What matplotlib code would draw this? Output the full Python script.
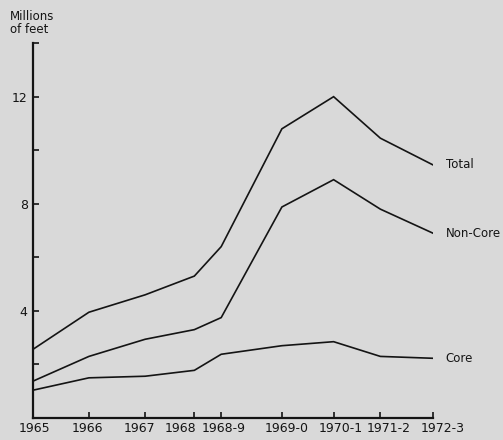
import numpy as np
import matplotlib
matplotlib.use("Agg")
from matplotlib import pyplot as plt
from matplotlib import transforms

# Data (millions of feet)
periods = ['1965', '1966', '1967', '1968', '1968-9', '1969-0', '1970-1', '1971-2', '1972-3']
# horizontal spacing of the periods is uneven on the original
positions = [0, 1.12, 2.25, 3.24, 3.78, 5.0, 6.04, 6.98, 8.04]
# the printed labels sit a little off their ticks
label_pos = [0.03, 1.1, 2.14, 2.97, 3.83, 5.09, 6.19, 7.15, 8.24]
total = [2.57, 3.95, 4.6, 5.3, 6.4, 10.8, 12.0, 10.45, 9.45]
non_core = [1.38, 2.3, 2.94, 3.3, 3.75, 7.88, 8.9, 7.8, 6.9]
core = [1.04, 1.5, 1.56, 1.78, 2.38, 2.7, 2.85, 2.3, 2.23]

bg = '#d9d9d9'
ink = '#141414'

fig = plt.figure(figsize=(5.03, 4.40), dpi=100, facecolor=bg)
ax = fig.add_axes([0.066, 0.05, 0.795, 0.852])
ax.set_facecolor(bg)

for vals, name in [(total, 'Total'), (non_core, 'Non-Core'), (core, 'Core')]:
    ax.plot(positions, vals, color=ink, lw=1.2, solid_joinstyle='miter')
    ax.annotate(name, (positions[-1], vals[-1]), xytext=(9, 0), textcoords='offset points',
                va='center', ha='left', fontsize=8.5, color=ink)

ax.set_xlim(0, 8.04)
ax.set_ylim(0, 14)
for s in ['top', 'right']:
    ax.spines[s].set_visible(False)
for s in ['left', 'bottom']:
    ax.spines[s].set_linewidth(1.6)
    ax.spines[s].set_color(ink)

ax.set_yticks([4, 8, 12])
ax.set_yticks([2, 6, 10, 14], minor=True)
ax.set_xticks(positions)
ax.set_xticklabels([])
ax.tick_params(axis='both', which='both', direction='in', color=ink, width=1.2,
               labelsize=9, labelcolor=ink)
ax.tick_params(axis='both', which='major', length=4, pad=4)
ax.tick_params(axis='y', which='minor', length=4)

trans = transforms.blended_transform_factory(ax.transData, ax.transAxes)
for xp, lab in zip(label_pos, periods):
    ax.text(xp, -0.012, lab, transform=trans, ha='center', va='top',
            fontsize=9, color=ink, clip_on=False)

fig.text(0.02, 0.978, 'Millions\nof feet', ha='left', va='top', fontsize=8.5,
         color=ink, linespacing=1.05)

plt.savefig('out.png', dpi=100, facecolor=bg)
